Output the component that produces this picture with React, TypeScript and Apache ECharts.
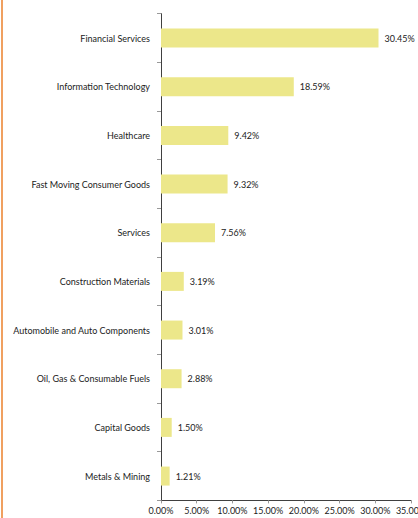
import React, { useEffect, useRef } from "react";
import * as echarts from "echarts";

const categories = [
  "Financial Services",
  "Information Technology",
  "Healthcare",
  "Fast Moving Consumer Goods",
  "Services",
  "Construction Materials",
  "Automobile and Auto Components",
  "Oil, Gas & Consumable Fuels",
  "Capital Goods",
  "Metals & Mining",
];
const values = [30.45, 18.59, 9.42, 9.32, 7.56, 3.19, 3.01, 2.88, 1.5, 1.21];
const xMin = 0;
const xMax = 35;
const xInterval = 5;

export default function App() {
  const ref = useRef<HTMLDivElement>(null);
  useEffect(() => {
    if (!ref.current) return;
    const chart = echarts.init(ref.current, undefined, { renderer: "svg" });
    const font = "Lato, 'Liberation Sans', sans-serif";
    chart.setOption({
      animation: false,
      grid: {
        left: 161,
        right: 7,
        top: 13.7,
        bottom: 17.6,
        containLabel: false,
        outerBoundsMode: "none",
      },
      xAxis: {
        type: "value",
        min: xMin,
        max: xMax,
        interval: xInterval,
        axisLine: { show: true, lineStyle: { color: "#404040", width: 1 } },
        axisTick: { show: true, length: 3, lineStyle: { color: "#999" } },
        splitLine: { show: false },
        axisLabel: {
          formatter: (v: number) => v.toFixed(2) + "%",
          fontFamily: font,
          fontSize: 9,
          color: "#222",
          margin: 6,
          hideOverlap: false,
        },
      },
      yAxis: {
        type: "category",
        data: categories,
        inverse: true,
        axisLine: { show: true, lineStyle: { color: "#404040", width: 1 } },
        axisTick: { show: true, length: 4, lineStyle: { color: "#999" } },
        axisLabel: {
          fontFamily: font,
          fontSize: 9,
          color: "#222",
          margin: 11,
        },
      },
      series: [
        {
          type: "bar",
          data: values,
          barWidth: 19,
          itemStyle: { color: "#ECE78A" },
          label: {
            show: true,
            position: "right",
            distance: 6,
            formatter: (p: any) => p.value.toFixed(2) + "%",
            fontFamily: font,
            fontSize: 9,
            color: "#222",
          },
        },
      ],
    });
    return () => chart.dispose();
  }, []);
  return (
    <div
      style={{
        position: "fixed",
        left: 0,
        top: 0,
        width: 418,
        height: 518,
        background: "#fff",
        overflow: "hidden",
      }}
    >
      <div
        style={{
          position: "absolute",
          left: 1,
          top: 0,
          width: 1.5,
          height: 518,
          background: "#F0A060",
        }}
      />
      <div ref={ref} style={{ position: "absolute", left: 0, top: 0, width: 418, height: 518 }} />
    </div>
  );
}
